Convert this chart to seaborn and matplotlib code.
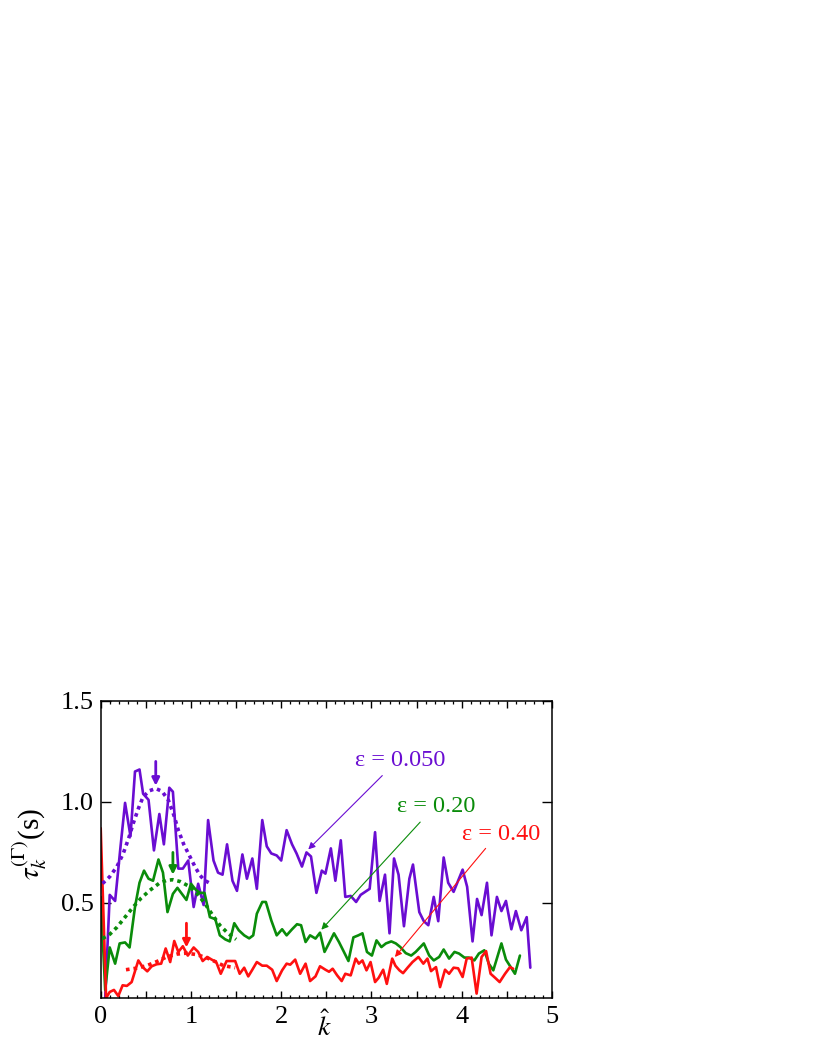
import numpy as np
import pandas as pd
import matplotlib
matplotlib.use("Agg")
import matplotlib.pyplot as plt
from matplotlib.ticker import MultipleLocator, FuncFormatter
import seaborn as sns

# ---------------- data ----------------
purple_k = [0.05, 0.10, 0.16, 0.22, 0.27, 0.33, 0.38, 0.43, 0.47, 0.53, 0.59, 0.65, 0.70, 0.76, 0.80,
            0.86, 0.91, 0.97, 1.03, 1.08, 1.14, 1.19, 1.25, 1.30, 1.35, 1.40, 1.46, 1.51, 1.57, 1.62,
            1.68, 1.73, 1.79, 1.84, 1.89, 1.95, 2.00, 2.06, 2.12, 2.17, 2.23, 2.28, 2.33, 2.39, 2.45,
            2.49, 2.55, 2.60, 2.66, 2.71, 2.77, 2.83, 2.88, 2.98, 3.04, 3.09, 3.15, 3.20, 3.25, 3.30,
            3.36, 3.42, 3.46, 3.53, 3.58, 3.63, 3.69, 3.74, 3.80, 3.85, 3.91, 4.01, 4.06, 4.12, 4.17,
            4.22, 4.28, 4.33, 4.39, 4.44, 4.49, 4.55, 4.60, 4.66, 4.72, 4.76]
purple_v = [0.03, 0.54, 0.51, 0.78, 0.995, 0.83, 1.15, 1.16, 1.04, 1.01, 0.76, 0.94, 0.79, 1.07, 1.05,
            0.67, 0.67, 0.71, 0.48, 0.595, 0.49, 0.91, 0.71, 0.65, 0.64, 0.79, 0.61, 0.56, 0.74, 0.62,
            0.72, 0.57, 0.91, 0.78, 0.745, 0.735, 0.71, 0.86, 0.79, 0.745, 0.68, 0.75, 0.73, 0.55, 0.66,
            0.645, 0.77, 0.61, 0.81, 0.53, 0.535, 0.505, 0.54, 0.57, 0.85, 0.51, 0.64, 0.35, 0.72, 0.64,
            0.385, 0.62, 0.69, 0.455, 0.41, 0.39, 0.53, 0.41, 0.725, 0.60, 0.555, 0.665, 0.58, 0.31, 0.52,
            0.44, 0.60, 0.34, 0.53, 0.46, 0.51, 0.37, 0.46, 0.365, 0.43, 0.18]

green_k = [0.00, 0.05, 0.10, 0.16, 0.21, 0.27, 0.32, 0.38, 0.43, 0.48, 0.53, 0.58, 0.64, 0.69, 0.74,
           0.80, 0.85, 0.90, 0.95, 1.00, 1.055, 1.10, 1.15, 1.21, 1.27, 1.32, 1.38, 1.43, 1.48, 1.53,
           1.59, 1.645, 1.69, 1.73, 1.79, 1.83, 1.89, 1.95, 2.01, 2.06, 2.12, 2.175, 2.22, 2.27, 2.32,
           2.38, 2.43, 2.48, 2.54, 2.585, 2.64, 2.695, 2.745, 2.80, 2.855, 2.90, 2.95, 3.005, 3.056,
           3.11, 3.16, 3.22, 3.27, 3.32, 3.38, 3.44, 3.49, 3.58, 3.64, 3.69, 3.75, 3.80, 3.86, 3.92,
           3.97, 4.03, 4.08, 4.14, 4.19, 4.25, 4.30, 4.35, 4.44, 4.49, 4.59, 4.645]
green_v = [0.53, 0.07, 0.28, 0.20, 0.30, 0.305, 0.28, 0.48, 0.60, 0.66, 0.62, 0.61, 0.715, 0.65, 0.455,
           0.545, 0.575, 0.545, 0.515, 0.595, 0.565, 0.55, 0.55, 0.43, 0.42, 0.34, 0.32, 0.31, 0.40, 0.365,
           0.34, 0.325, 0.34, 0.447, 0.505, 0.505, 0.414, 0.34, 0.37, 0.34, 0.37, 0.395, 0.39, 0.307, 0.34,
           0.324, 0.353, 0.258, 0.31, 0.35, 0.307, 0.258, 0.213, 0.33, 0.34, 0.35, 0.258, 0.24, 0.315,
           0.282, 0.30, 0.31, 0.30, 0.282, 0.252, 0.24, 0.258, 0.30, 0.24, 0.216, 0.233, 0.27, 0.225, 0.258,
           0.25, 0.23, 0.23, 0.216, 0.25, 0.266, 0.20, 0.167, 0.30, 0.22, 0.15, 0.24]

red_k = [0.00, 0.06, 0.10, 0.147, 0.195, 0.243, 0.29, 0.343, 0.417, 0.465, 0.516, 0.565, 0.62, 0.67,
         0.72, 0.77, 0.815, 0.86, 0.91, 0.965, 1.03, 1.08, 1.13, 1.18, 1.23, 1.28, 1.33, 1.395, 1.44,
         1.49, 1.54, 1.59, 1.635, 1.676, 1.73, 1.79, 1.84, 1.90, 1.95, 2.01, 2.06, 2.10, 2.155, 2.21,
         2.27, 2.32, 2.38, 2.43, 2.49, 2.53, 2.57, 2.62, 2.67, 2.71, 2.77, 2.825, 2.86, 2.90, 2.945,
         2.99, 3.04, 3.08, 3.13, 3.17, 3.23, 3.265, 3.31, 3.35, 3.40, 3.455, 3.52, 3.575, 3.62, 3.66,
         3.715, 3.76, 3.815, 3.86, 3.91, 3.96, 4.01, 4.055, 4.11, 4.165, 4.22, 4.27, 4.32, 4.37, 4.42,
         4.48, 4.535, 4.57]
red_v = [0.87, 0.03, 0.06, 0.07, 0.04, 0.093, 0.09, 0.109, 0.216, 0.183, 0.162, 0.187, 0.197, 0.20,
         0.275, 0.208, 0.312, 0.258, 0.286, 0.24, 0.28, 0.258, 0.213, 0.233, 0.22, 0.208, 0.15, 0.213, 0.213,
         0.213, 0.15, 0.18, 0.137, 0.167, 0.208, 0.19, 0.19, 0.17, 0.114, 0.167, 0.20, 0.195, 0.22, 0.15,
         0.20, 0.114, 0.137, 0.187, 0.17, 0.16, 0.175, 0.142, 0.114, 0.15, 0.142, 0.225, 0.20, 0.216, 0.167,
         0.208, 0.109, 0.13, 0.17, 0.10, 0.225, 0.19, 0.167, 0.153, 0.18, 0.208, 0.233, 0.20, 0.225, 0.163,
         0.183, 0.084, 0.17, 0.15, 0.18, 0.177, 0.134, 0.225, 0.23, 0.052, 0.233, 0.262, 0.15, 0.13, 0.109,
         0.15, 0.183, 0.175]

# dotted fitted curves
purple_fit_k = [0.02, 0.10, 0.18, 0.25, 0.31, 0.36, 0.42, 0.47, 0.54, 0.61, 0.68, 0.75, 0.81, 0.86,
                0.92, 0.99, 1.05, 1.10, 1.15, 1.20]
purple_fit_v = [0.596, 0.63, 0.68, 0.745, 0.82, 0.893, 0.97, 1.025, 1.055, 1.066, 1.052, 1.008, 0.935,
                0.86, 0.79, 0.728, 0.675, 0.637, 0.612, 0.60]
green_fit_k = [0.02, 0.10, 0.18, 0.27, 0.36, 0.45, 0.546, 0.65, 0.73, 0.80, 0.88, 0.99, 1.07, 1.155,
               1.24, 1.32, 1.41, 1.50]
green_fit_v = [0.324, 0.345, 0.38, 0.43, 0.48, 0.525, 0.563, 0.598, 0.612, 0.615, 0.606, 0.58, 0.545,
               0.497, 0.44, 0.39, 0.35, 0.32]
red_fit_k = [0.28, 0.40, 0.51, 0.62, 0.73, 0.84, 0.95, 1.06, 1.17, 1.27, 1.36, 1.49]
red_fit_v = [0.17, 0.178, 0.19, 0.21, 0.233, 0.247, 0.252, 0.245, 0.23, 0.21, 0.19, 0.18]

peak_k = [0.61, 0.80, 0.95]
peak_top = [1.20, 0.75, 0.40]
peak_tip = [1.08, 0.64, 0.28]

labels = ["ε = 0.050", "ε = 0.20", "ε = 0.40"]
label_xy = [(3.316, 1.206), (3.715, 0.979), (4.435, 0.84)]
arrow_tail = [(3.12, 1.13), (3.54, 0.90), (4.265, 0.77)]
arrow_head = [(2.30, 0.765), (2.445, 0.368), (3.26, 0.233)]

colors = ["#6a0dd2", "#0a8c0a", "#ff1010"]

# ---------------- style ----------------
sns.set_style("ticks")
plt.rcParams["font.family"] = ["Liberation Serif", "DejaVu Serif"]
plt.rcParams["mathtext.fontset"] = "stix"
plt.rcParams["axes.linewidth"] = 1.1
for key in ["text.color", "axes.labelcolor", "xtick.color", "ytick.color", "axes.edgecolor"]:
    plt.rcParams[key] = "black"

fig = plt.figure(figsize=(8.22, 10.64), dpi=100)
ax = fig.add_axes([0.1225, 0.062, 0.549, 0.2794])

series = [(purple_k, purple_v), (green_k, green_v), (red_k, red_v)]
fits = [(purple_fit_k, purple_fit_v), (green_fit_k, green_fit_v), (red_fit_k, red_fit_v)]

for (k, v), c in zip(series, colors):
    df = pd.DataFrame({"k": k, "tau": v})
    sns.lineplot(data=df, x="k", y="tau", ax=ax, color=c, linewidth=1.9,
                 estimator=None, sort=False, legend=False)

for (k, v), c in zip(fits, colors):
    df = pd.DataFrame({"k": k, "tau": v})
    sns.lineplot(data=df, x="k", y="tau", ax=ax, color=c, linewidth=2.6,
                 linestyle=(0, (1.0, 1.1)), estimator=None, sort=False, legend=False)

for pk, top, tip, c in zip(peak_k, peak_top, peak_tip, colors):
    ax.annotate("", xy=(pk, tip), xytext=(pk, top),
                arrowprops=dict(arrowstyle="-|>", color=c, lw=2.0, mutation_scale=11,
                                shrinkA=0, shrinkB=0))

for lab, (tx, ty), tail, head, c in zip(labels, label_xy, arrow_tail, arrow_head, colors):
    ax.text(tx, ty, lab, color=c, fontsize=17.5, ha="center", va="center")
    ax.annotate("", xy=head, xytext=tail,
                arrowprops=dict(arrowstyle="-|>", color=c, lw=0.8, mutation_scale=10,
                                shrinkA=0, shrinkB=0))

ax.set_xlim(0, 5)
ax.set_ylim(0.03, 1.5)
ax.xaxis.set_major_locator(MultipleLocator(0.5))
ax.xaxis.set_minor_locator(MultipleLocator(0.1))
ax.xaxis.set_major_formatter(FuncFormatter(
    lambda v, p: f"{int(round(v))}" if abs(v - round(v)) < 1e-6 else ""))
ax.set_yticks([0.5, 1.0, 1.5])
ax.set_yticklabels(["0.5", "1.0", "1.5"])

ax.tick_params(axis="both", which="both", direction="in", top=True, right=True, colors="black")
ax.tick_params(axis="x", which="major", length=5, width=1.0, labelsize=19, pad=6)
ax.tick_params(axis="x", which="minor", length=2.5, width=0.9)
ax.tick_params(axis="y", which="major", length=7, width=1.0, labelsize=19, pad=5)

ax.set_xlabel(r"$\hat{k}$", fontsize=20, color="black")
ax.xaxis.set_label_coords(0.495, -0.045)
ax.xaxis.label.set_va("top")
ax.set_ylabel(r"$\tau_k^{(\Gamma)}$(s)", fontsize=21, color="black")
ax.yaxis.set_label_coords(-0.115, 0.52)

for s in ax.spines.values():
    s.set_visible(True)
    s.set_color("black")

fig.savefig("out.png", dpi=100)
